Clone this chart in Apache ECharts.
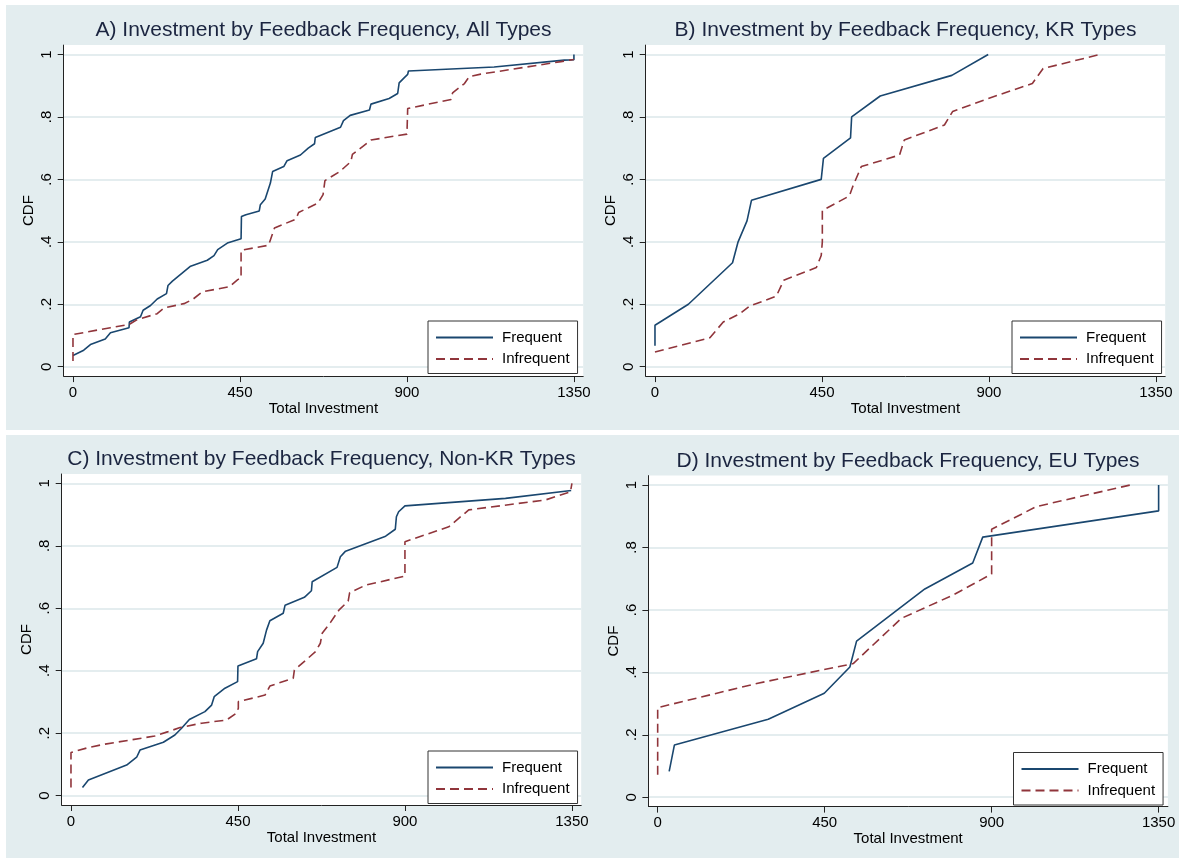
<!DOCTYPE html>
<html>
<head>
<meta charset="utf-8">
<script src="https://cdn.jsdelivr.net/npm/echarts@6/dist/echarts.min.js"></script>
<style>
html,body{margin:0;padding:0;background:#fff;}
#chart{width:1179px;height:858px;}
</style>
</head>
<body>
<div id="chart"></div>
<script>
// ---- data ----
const panelTitles = [
  'A) Investment by Feedback Frequency, All Types',
  'B) Investment by Feedback Frequency, KR Types',
  'C) Investment by Feedback Frequency, Non-KR Types',
  'D) Investment by Feedback Frequency, EU Types'
];
const seriesNames = ['Frequent', 'Infrequent'];
const xTicks = [0, 450, 900, 1350];
const yTicks = [0, 0.2, 0.4, 0.6, 0.8, 1];
const yTickLabels = ['0', '.2', '.4', '.6', '.8', '1'];
const xAxisName = 'Total Investment';
const yAxisName = 'CDF';

const allFrequent = [[0,.036],[29,.053],[47,.071],[87,.089],[101,.109],[151,.125],[152,.143],[182,.160],[189,.181],[209,.196],[227,.217],[252,.234],[256,.260],[268,.274],[317,.322],[362,.341],[380,.356],[390,.375],[416,.396],[453,.41],[454,.481],[466,.487],[502,.499],[505,.519],[518,.537],[532,.588],[538,.625],[568,.641],[577,.66],[613,.678],[634,.70],[651,.714],[653,.734],[721,.767],[729,.788],[747,.805],[799,.822],[803,.841],[852,.859],[875,.875],[879,.909],[893,.926],[902,.936],[904,.947],[1135,.96],[1324,.982],[1350,.983],[1350,1]];
const allInfrequent = [[0,.018],[0,.103],[101,.125],[151,.135],[173,.151],[227,.170],[245,.188],[299,.202],[322,.215],[349,.24],[421,.256],[444,.279],[453,.284],[453,.373],[527,.389],[543,.444],[601,.473],[608,.494],[660,.524],[674,.551],[679,.596],[719,.625],[749,.657],[753,.68],[803,.726],[900,.745],[902,.827],[1019,.856],[1023,.877],[1055,.907],[1068,.929],[1099,.937],[1315,.977],[1350,.984]];

const krFrequent = [[0,.067],[0,.133],[90,.2],[209,.333],[224,.4],[248,.467],[260,.533],[448,.6],[454,.667],[527,.733],[530,.8],[607,.867],[800,.933],[898,1]];
const krInfrequent = [[0,.047],[148,.093],[184,.143],[229,.17],[255,.194],[327,.226],[347,.277],[435,.318],[448,.356],[451,.40],[451,.5],[524,.547],[533,.577],[556,.641],[659,.678],[672,.726],[780,.774],[802,.817],[898,.859],[1017,.907],[1046,.955],[1199,1]];

const nonKrFrequent = [[31,.026],[47,.05],[150,.098],[177,.123],[186,.146],[249,.171],[280,.194],[298,.216],[319,.244],[361,.269],[379,.29],[386,.317],[415,.344],[449,.365],[450,.415],[500,.438],[503,.461],[518,.488],[527,.53],[536,.56],[572,.584],[577,.61],[629,.635],[648,.656],[650,.685],[717,.731],[726,.765],[740,.783],[848,.831],[874,.853],[877,.893],[883,.909],[900,.928],[1171,.952],[1348,.977]];
const nonKrInfrequent = [[0,.026],[0,.138],[47,.154],[92,.165],[226,.191],[262,.205],[294,.218],[352,.232],[419,.242],[446,.264],[451,.28],[451,.301],[523,.322],[536,.351],[599,.376],[602,.402],[659,.461],[672,.488],[677,.52],[699,.554],[722,.594],[747,.623],[751,.65],[794,.674],[900,.703],[900,.813],[1018,.861],[1072,.915],[1279,.947],[1346,.973],[1350,1]];

const euFrequent = [[31,.083],[45,.167],[298,.25],[449,.333],[518,.417],[536,.5],[720,.667],[849,.75],[876,.833],[1350,.917],[1350,1]];
const euInfrequent = [[0,.072],[0,.287],[270,.365],[527,.428],[657,.573],[797,.648],[900,.715],[900,.858],[1021,.931],[1274,1]];

const panelData = [
  [allFrequent, allInfrequent],
  [krFrequent, krInfrequent],
  [nonKrFrequent, nonKrInfrequent],
  [euFrequent, euInfrequent]
];

// ---- layout / style ----
const grids = [
  {left: 63.7, top: 45.1, width: 519.5, height: 331},
  {left: 645.7, top: 45.1, width: 519.5, height: 331},
  {left: 61.7, top: 474, width: 519.5, height: 331},
  {left: 648.4, top: 475.6, width: 519.5, height: 331}
];
const titlePos = [[323.5, 20], [905.5, 20], [321.5, 449], [908, 450.5]];
const legendPos = [[428, 321], [1012, 321], [428, 751], [1013.5, 752.5]];
const colors = ['#1a476f', '#90353b'];
const FONT = '"Liberation Sans", Arial, Helvetica, sans-serif';

const option = {
  animation: false,
  backgroundColor: '#e3edef',
  graphic: [
    {type: 'rect', shape: {x: 0, y: 0, width: 1179, height: 5}, style: {fill: '#fff'}, silent: true},
    {type: 'rect', shape: {x: 0, y: 0, width: 6, height: 858}, style: {fill: '#fff'}, silent: true},
    {type: 'rect', shape: {x: 0, y: 430, width: 1179, height: 5}, style: {fill: '#fff'}, silent: true}
  ],
  title: panelTitles.map((t, i) => ({
    text: t,
    left: titlePos[i][0],
    top: titlePos[i][1],
    textAlign: 'center',
    padding: 0,
    textStyle: {fontFamily: FONT, fontSize: 21, fontWeight: 'normal', color: '#1b2540'}
  })),
  grid: grids.map(g => Object.assign({show: true, backgroundColor: '#fff', borderWidth: 0}, g)),
  legend: legendPos.map((p, i) => ({
    data: seriesNames,
    orient: 'vertical',
    left: p[0],
    top: p[1],
    selectedMode: false,
    backgroundColor: '#fff',
    borderColor: '#333',
    borderWidth: 1,
    borderRadius: 0,
    padding: [9, 8, 7, 7],
    itemWidth: 57,
    itemHeight: 14,
    itemGap: 6.5,
    itemStyle: {opacity: 0},
    textStyle: {fontFamily: FONT, fontSize: 15, color: '#000', padding: [0, 0, 0, 4]}
  })),
  xAxis: grids.map((g, i) => ({
    type: 'value',
    gridIndex: i,
    min: -25,
    max: 1375,
    name: xAxisName,
    nameLocation: 'middle',
    nameGap: 24,
    nameTextStyle: {fontFamily: FONT, fontSize: 15, color: '#000', verticalAlign: 'top'},
    axisLine: {show: true, onZero: false, lineStyle: {color: '#222', width: 1}},
    axisTick: {show: true, length: 6, customValues: xTicks, lineStyle: {color: '#222'}},
    axisLabel: {
      customValues: xTicks, margin: 9, fontFamily: FONT, fontSize: 15, color: '#000',
      formatter: v => String(Math.round(v))
    },
    splitLine: {show: false}
  })),
  yAxis: grids.map((g, i) => ({
    type: 'value',
    gridIndex: i,
    min: -0.03,
    max: 1.03,
    name: yAxisName,
    nameLocation: 'middle',
    nameGap: 27,
    nameTextStyle: {fontFamily: FONT, fontSize: 15, color: '#000'},
    axisLine: {show: true, onZero: false, lineStyle: {color: '#222', width: 1}},
    axisTick: {show: true, length: 6, customValues: yTicks, lineStyle: {color: '#222'}},
    axisLabel: {
      customValues: yTicks,
      rotate: 90,
      margin: 9,
      fontFamily: FONT, fontSize: 15, color: '#000',
      formatter: v => {
        const idx = yTicks.findIndex(t => Math.abs(t - v) < 1e-6);
        return idx >= 0 ? yTickLabels[idx] : '';
      }
    },
    splitLine: {show: true, lineStyle: {color: '#e4edef', width: 2}}
  })),
  series: []
};

panelData.forEach((pair, i) => {
  pair.forEach((data, k) => {
    option.series.push({
      name: seriesNames[k],
      type: 'line',
      xAxisIndex: i,
      yAxisIndex: i,
      data: data,
      symbol: 'none',
      showSymbol: false,
      smooth: false,
      color: colors[k],
      lineStyle: {color: colors[k], width: 1.6, type: k === 0 ? 'solid' : [9, 5]},
      z: 3 + k
    });
  });
});

const chart = echarts.init(document.getElementById('chart'), null, {renderer: 'canvas'});
chart.setOption(option);
</script>
</body>
</html>
